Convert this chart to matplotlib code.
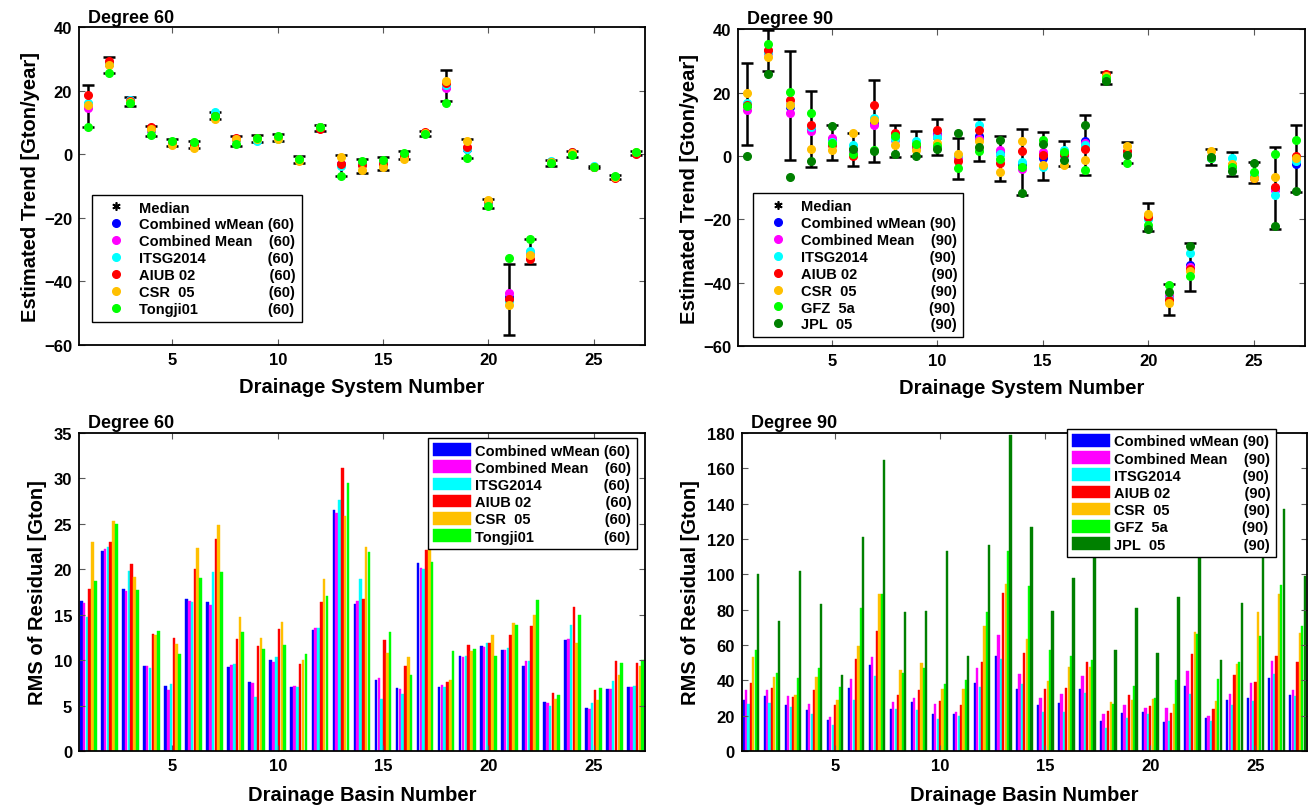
import matplotlib
matplotlib.use('Agg')
import matplotlib.pyplot as plt
import numpy as np

plt.rcParams['font.family'] = ['Liberation Sans', 'DejaVu Sans']
plt.rcParams['font.weight'] = 'bold'
plt.rcParams['axes.labelweight'] = 'bold'

basins = np.arange(1, 28)

# --- estimated trends, degree 60 [Gton/year] ---
tr60_wmean = [15.8, 28.6, 17.0, 7.8, 3.9, 3.2, 12.6, 4.9, 5.0, 5.3, -1.5, 8.5, -2.9, -3.0, -3.0, -0.5, 6.7, 21.3, 1.8, -15.0, -44.8, -31.0, -2.3, 0.6, -3.9, -7.2, 0.5]
tr60_mean = [14.7, 28.4, 16.9, 7.7, 3.8, 3.1, 12.5, 4.8, 4.9, 5.2, -1.5, 8.4, -3.0, -3.1, -3.0, -0.5, 6.7, 21.0, 1.9, -15.0, -43.8, -31.2, -2.3, 0.6, -3.9, -7.2, 0.5]
tr60_itsg = [16.2, 28.8, 17.2, 7.9, 4.0, 3.3, 13.3, 4.9, 4.2, 4.7, -1.3, 8.6, -3.6, -3.1, -3.2, -0.6, 6.8, 21.9, 1.6, -14.9, -46.1, -30.4, -2.1, 0.7, -3.8, -7.1, 0.6]
tr60_aiub = [18.6, 29.3, 16.9, 8.5, 3.7, 3.0, 12.2, 5.2, 5.1, 5.4, -1.6, 7.9, -2.9, -3.4, -3.1, -0.4, 7.0, 22.6, 2.3, -14.8, -45.5, -32.8, -2.4, 0.8, -3.9, -7.5, 0.1]
tr60_csr = [15.7, 28.3, 16.6, 8.1, 3.0, 2.1, 11.3, 5.0, 5.0, 4.7, -2.1, 8.6, -0.7, -5.0, -4.0, -1.4, 6.8, 23.2, 4.1, -14.5, -47.4, -31.7, -2.4, 0.5, -3.9, -7.2, 0.7]
tr60_tongji = [8.7, 25.7, 16.3, 6.2, 4.3, 3.8, 12.1, 3.4, 5.3, 5.7, -1.6, 8.7, -6.8, -2.0, -1.8, 0.5, 6.3, 16.3, -1.0, -16.3, -32.5, -26.5, -2.8, -0.3, -4.0, -6.9, 0.7]
err60_lo = [8.7, 25.5, 15.4, 5.7, 2.6, 2.1, 11.1, 2.8, 3.9, 4.2, -2.6, 7.4, -6.8, -5.8, -5.0, -1.6, 5.7, 16.7, -1.1, -16.8, -56.9, -34.6, -3.7, -0.7, -4.4, -7.9, -0.1]
err60_hi = [22.0, 30.6, 18.1, 8.9, 4.7, 4.3, 13.3, 5.7, 6.2, 6.3, -0.5, 9.2, -0.1, -1.4, -0.9, 1.0, 7.3, 26.7, 4.7, -14.0, -34.6, -26.5, -1.8, 1.0, -3.6, -6.6, 1.0]

# --- estimated trends, degree 90 [Gton/year] ---
tr90_wmean = [16.0, 33.0, 15.5, 8.6, 5.3, 1.8, 10.5, 5.5, 3.2, 7.0, 0.0, 6.3, 1.3, -2.5, -0.8, 0.3, 4.6, 25.5, 1.2, -19.0, -45.0, -34.5, -0.5, -3.0, -6.5, -10.3, -2.4]
tr90_mean = [14.5, 32.6, 13.7, 7.8, 5.8, 1.5, 9.7, 5.0, 3.0, 6.5, -0.5, 5.5, 2.0, -4.0, 1.3, 0.5, 4.2, 25.4, 1.1, -19.2, -44.2, -35.1, -0.5, -3.3, -6.6, -10.8, -1.0]
tr90_itsg = [16.8, 32.8, 16.0, 9.0, 4.5, 3.6, 12.0, 5.2, 4.7, 6.1, 0.2, 9.7, 0.5, -1.9, -3.5, 1.8, 3.4, 25.6, 1.3, -19.8, -45.2, -30.8, -0.6, -0.8, -6.4, -12.2, -1.7]
tr90_aiub = [16.2, 33.4, 17.6, 9.9, 3.4, 0.0, 16.2, 7.3, 3.5, 8.1, -1.6, 8.1, -2.1, 1.6, 0.2, 0.5, 2.3, 26.0, 1.6, -19.3, -45.5, -35.6, -0.4, -3.0, -7.1, -9.8, 0.0]
tr90_csr = [20.0, 31.3, 16.0, 2.1, 2.0, 7.3, 11.5, 3.6, 2.0, 4.2, 0.5, 4.6, -5.1, 4.6, -2.9, -2.7, -1.2, 25.3, 3.1, -18.4, -46.4, -36.3, 1.5, -2.6, -6.9, -6.6, -0.5]
tr90_gfz = [15.8, 35.3, 20.2, 13.7, 4.2, 0.7, 1.8, 6.2, 3.9, 3.1, -3.8, 1.6, -1.1, -3.5, 4.9, 1.3, -4.5, 24.6, -2.1, -21.7, -40.8, -37.9, -0.6, -3.5, -5.1, 0.5, 5.1]
tr90_jpl = [0.0, 26.0, -6.7, -1.7, 9.5, 2.1, 1.5, 0.7, -0.1, 2.3, 7.4, 2.8, 4.9, -11.7, 3.9, -1.4, 9.7, 23.6, 0.4, -23.2, -42.9, -28.5, -0.3, -4.8, -2.1, -22.1, -11.2]
err90_lo = [3.4, 26.7, -1.2, -3.6, -1.4, -3.3, -1.9, -0.4, 0.0, 0.4, -7.4, -1.7, -8.0, -12.4, -7.7, -3.3, -6.1, 22.8, -2.2, -23.6, -50.3, -42.6, -2.7, -6.4, -8.4, -23.2, -11.4]
err90_hi = [29.2, 39.7, 33.2, 20.4, 9.9, 7.1, 24.1, 9.7, 7.9, 11.8, 5.8, 11.8, 6.3, 8.4, 7.6, 4.7, 12.8, 26.5, 4.4, -14.7, -40.5, -27.4, 2.1, 1.1, -1.9, 2.8, 9.9]

# --- RMS of residuals, degree 60 [Gton] ---
rms60_wmean = [16.5, 22.0, 17.8, 9.3, 7.2, 16.7, 16.4, 9.2, 7.6, 10.0, 7.0, 13.3, 26.5, 16.2, 7.8, 6.9, 20.7, 7.0, 10.4, 11.5, 11.1, 9.3, 5.4, 12.2, 4.7, 6.8, 7.0]
rms60_mean = [16.3, 22.2, 17.6, 9.3, 6.7, 16.5, 16.0, 9.5, 7.5, 9.8, 7.2, 13.5, 26.2, 16.5, 8.0, 6.8, 20.1, 7.3, 10.3, 11.4, 11.1, 9.9, 5.3, 12.3, 4.6, 6.8, 7.0]
rms60_itsg = [14.7, 22.4, 19.8, 9.1, 7.4, 16.4, 19.7, 9.6, 5.9, 10.3, 7.0, 13.5, 27.6, 18.9, 5.7, 6.3, 20.0, 7.0, 10.5, 11.9, 11.3, 9.9, 5.0, 13.8, 5.3, 7.7, 7.1]
rms60_aiub = [17.8, 23.0, 20.6, 12.9, 12.4, 20.0, 23.3, 12.3, 11.5, 13.4, 9.6, 16.4, 31.1, 16.7, 12.2, 9.3, 22.1, 7.6, 11.6, 11.9, 12.7, 13.7, 6.4, 15.8, 6.7, 9.9, 9.7]
rms60_csr = [23.0, 25.3, 19.1, 12.7, 11.8, 22.3, 24.8, 14.7, 12.4, 14.2, 10.0, 18.9, 25.8, 22.4, 10.8, 10.3, 22.2, 7.8, 11.0, 12.7, 14.1, 14.9, 5.7, 11.9, 5.6, 8.4, 9.4]
rms60_tongji = [18.7, 25.0, 17.7, 13.2, 10.7, 19.0, 19.7, 13.1, 11.2, 11.7, 10.7, 17.0, 29.5, 21.9, 13.1, 8.4, 20.8, 11.0, 11.2, 10.5, 13.9, 16.6, 6.2, 15.0, 6.9, 9.7, 10.0]

# --- RMS of residuals, degree 90 [Gton] ---
rms90_wmean = [28.6, 31.4, 25.8, 23.4, 17.7, 35.6, 48.8, 23.9, 27.7, 20.7, 21.1, 38.4, 53.9, 35.0, 25.8, 27.1, 35.0, 16.8, 21.7, 22.2, 16.6, 36.7, 18.6, 29.0, 29.9, 41.2, 31.6]
rms90_mean = [34.8, 34.3, 30.9, 26.7, 19.2, 40.5, 53.1, 27.7, 30.1, 26.6, 22.0, 47.1, 65.9, 43.7, 29.9, 32.0, 42.6, 20.7, 25.8, 24.5, 24.1, 45.4, 19.6, 32.2, 38.6, 51.0, 34.3]
rms90_itsg = [26.4, 27.3, 24.7, 20.7, 14.9, 28.6, 42.4, 23.9, 23.0, 18.3, 19.6, 36.2, 52.2, 38.0, 22.0, 22.0, 33.0, 13.2, 18.8, 20.9, 17.1, 32.2, 16.8, 25.8, 28.2, 43.5, 30.9]
rms90_aiub = [38.6, 35.8, 30.7, 34.3, 25.8, 52.2, 68.0, 31.8, 34.8, 28.1, 26.2, 50.3, 89.5, 55.7, 35.2, 35.6, 50.3, 22.6, 31.8, 25.2, 21.5, 54.8, 23.5, 43.1, 39.2, 53.5, 50.5]
rms90_csr = [53.1, 41.8, 31.8, 41.8, 28.6, 59.5, 89.1, 45.6, 49.9, 35.2, 35.2, 70.6, 94.7, 63.3, 39.9, 47.3, 47.3, 27.5, 29.0, 29.2, 26.4, 67.6, 28.2, 49.3, 78.5, 88.9, 66.7]
rms90_gfz = [57.3, 44.4, 41.4, 47.1, 36.3, 81.2, 89.1, 44.3, 46.9, 37.7, 40.3, 78.9, 113.2, 93.2, 57.3, 53.7, 51.6, 26.7, 36.7, 29.8, 40.3, 66.3, 40.5, 50.1, 65.0, 94.0, 71.0]
rms90_jpl = [100.0, 73.6, 102.1, 83.2, 43.1, 120.9, 164.8, 78.5, 79.1, 113.2, 54.0, 116.4, 178.7, 126.6, 79.3, 97.7, 130.0, 57.3, 81.0, 55.6, 87.0, 120.0, 51.4, 84.0, 109.6, 136.9, 99.1]

kleuren60 = ['#0000ff', '#ff00ff', '#00ffff', '#ff0000', '#ffc000', '#00ff00']
kleuren90 = kleuren60 + ['#008000']

namen60 = ['Combined wMean (60)', 'Combined Mean    (60)', 'ITSG2014               (60)',
           'AIUB 02                  (60)', 'CSR  05                  (60)', 'Tongji01                 (60)']
namen90 = ['Combined wMean (90)', 'Combined Mean    (90)', 'ITSG2014               (90)',
           'AIUB 02                  (90)', 'CSR  05                  (90)', 'GFZ  5a                  (90)',
           'JPL  05                   (90)']


def opmaak(ax, titel):
    ax.set_xlim(0.56, 27.44)
    ax.set_xticks([5, 10, 15, 20, 25])
    ax.tick_params(direction='in', top=True, right=True, length=4, width=0.8,
                   color='0.35', labelsize=12, pad=5)
    for lab in ax.get_xticklabels() + ax.get_yticklabels():
        lab.set_fontweight('bold')
    for sp in ax.spines.values():
        sp.set_linewidth(1.3)
    ax.text(0.016, 1.006, titel, transform=ax.transAxes, ha='left', va='bottom',
            fontsize=13, fontweight='bold')


def trend(ax, reeksen, kleuren, namen, lo, hi, titel, anker):
    data = np.array(reeksen)
    med = np.median(data, axis=0)
    lo = np.array(lo)
    hi = np.array(hi)
    ax.errorbar(basins, med, yerr=[np.clip(med - lo, 0, None), np.clip(hi - med, 0, None)],
                fmt='none', ecolor='k', elinewidth=1.8, capsize=4, capthick=1.8)
    # MATLAB-achtige asterisk voor de mediaan
    ax.plot(basins, med, ls='none', marker=(6, 2, 0), color='k', ms=6, mew=1.2, label='Median')
    for vals, c, n in zip(reeksen, kleuren, namen):
        ax.plot(basins, vals, 'o', color=c, ms=5.5, mec=c, label=n)
    ax.set_ylim(-60, 40)
    ax.set_yticks([-60, -40, -20, 0, 20, 40])
    ax.set_yticklabels(['\u221260', '\u221240', '\u221220', '0', '20', '40'])
    ax.set_xlabel('Drainage System Number', fontsize=14.5, fontweight='bold', labelpad=7)
    ax.set_ylabel('Estimated Trend [Gton/year]', fontsize=14.5, fontweight='bold', labelpad=3)
    opmaak(ax, titel)
    leg = ax.legend(loc='lower left', bbox_to_anchor=anker, fontsize=10.5, numpoints=1,
                    fancybox=False, edgecolor='k', framealpha=1, borderaxespad=0,
                    handlelength=2.6, handletextpad=0.25, labelspacing=0.2, borderpad=0.4)
    leg.get_frame().set_linewidth(1.0)
    for t in leg.get_texts():
        t.set_fontweight('bold')


def staaf(ax, reeksen, kleuren, namen, ymax, stap, titel, anker):
    n = len(reeksen)
    gw = 0.8
    w = gw / n
    for i, (vals, c, nm) in enumerate(zip(reeksen, kleuren, namen)):
        off = -gw / 2 + (i + 0.5) * w
        ax.bar(basins + off, vals, width=w * 0.92, color=c, edgecolor=c, lw=0.3, label=nm)
    ax.set_ylim(0, ymax)
    ax.set_yticks(np.arange(0, ymax + 1, stap))
    ax.set_xlabel('Drainage Basin Number', fontsize=14.5, fontweight='bold', labelpad=9)
    ax.set_ylabel('RMS of Residual [Gton]', fontsize=14.5, fontweight='bold', labelpad=5)
    opmaak(ax, titel)
    leg = ax.legend(loc='upper right', bbox_to_anchor=anker, fontsize=10.5,
                    fancybox=False, edgecolor='k', framealpha=1, borderaxespad=0,
                    handlelength=2.6, handleheight=0.95, handletextpad=0.27,
                    labelspacing=0.2, borderpad=0.35)
    leg.get_frame().set_linewidth(1.0)
    for t in leg.get_texts():
        t.set_fontweight('bold')


def main():
    fig = plt.figure(figsize=(13.1, 8.12), dpi=100)
    ax1 = fig.add_axes([0.0603, 0.574, 0.432, 0.391])
    ax2 = fig.add_axes([0.5634, 0.5727, 0.4328, 0.390])
    ax3 = fig.add_axes([0.0603, 0.0739, 0.432, 0.392])
    ax4 = fig.add_axes([0.5662, 0.0739, 0.4313, 0.3916])

    trend(ax1, [tr60_wmean, tr60_mean, tr60_itsg, tr60_aiub, tr60_csr, tr60_tongji],
          kleuren60, namen60, err60_lo, err60_hi, 'Degree 60', (0.0224, 0.0725))
    trend(ax2, [tr90_wmean, tr90_mean, tr90_itsg, tr90_aiub, tr90_csr, tr90_gfz, tr90_jpl],
          kleuren90, namen90, err90_lo, err90_hi, 'Degree 90', (0.027, 0.0274))
    staaf(ax3, [rms60_wmean, rms60_mean, rms60_itsg, rms60_aiub, rms60_csr, rms60_tongji],
          kleuren60, namen60, 35, 5, 'Degree 60', (0.986, 0.983))
    staaf(ax4, [rms90_wmean, rms90_mean, rms90_itsg, rms90_aiub, rms90_csr, rms90_gfz, rms90_jpl],
          kleuren90, namen90, 180, 20, 'Degree 90', (0.945, 1.013))

    fig.savefig('out.png', dpi=100)


main()
